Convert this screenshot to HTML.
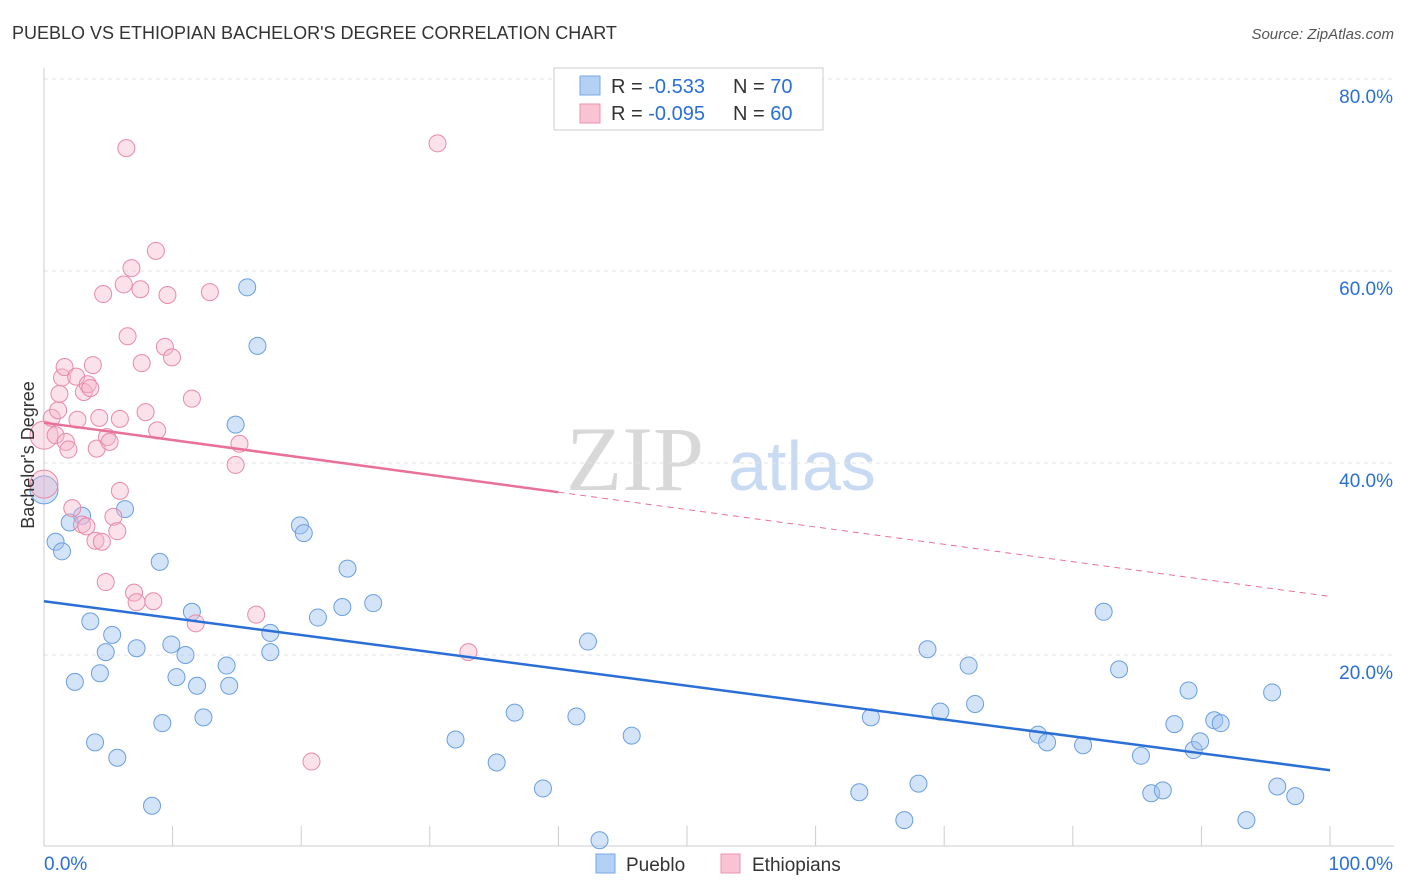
<!DOCTYPE html>
<html><head><meta charset="utf-8"><style>
body{margin:0;background:#fff;font-family:"Liberation Sans",sans-serif;}
svg{display:block}
</style></head><body>
<svg id="chart" width="1406" height="892">
<text x="12" y="39" font-size="18" fill="#333">PUEBLO VS ETHIOPIAN BACHELOR'S DEGREE CORRELATION CHART</text>
<text x="1394" y="39" font-size="15" fill="#555" font-style="italic" text-anchor="end">Source: ZipAtlas.com</text>
<g>
<text x="635" y="490" font-size="92" font-family="Liberation Serif,serif" fill="#d8d8d8" text-anchor="middle">ZIP</text>
<text x="802" y="490" font-size="70" fill="#c9daf3" text-anchor="middle">atlas</text>
</g>
<g id="grid"></g>
<g id="axes"></g>
<g id="marks"></g>
<text transform="translate(34,455) rotate(-90)" font-size="18" fill="#333" text-anchor="middle">Bachelor's Degree</text>
<g>
<rect x="554" y="68" width="269" height="62" fill="#fff" stroke="#ccc"/>
<rect x="580" y="76" width="20" height="19" fill="#b3d0f5" stroke="#7aa8e6"/>
<rect x="580" y="104" width="20" height="19" fill="#f9c3d3" stroke="#eb94b0"/>
<text x="611" y="93" font-size="20" fill="#333">R = <tspan fill="#2a6fd6"> -0.533</tspan><tspan x="733">N = </tspan><tspan fill="#2a6fd6">70</tspan></text>
<text x="611" y="120" font-size="20" fill="#333">R = <tspan fill="#2a6fd6">-0.095</tspan><tspan x="733">N = </tspan><tspan fill="#2a6fd6">60</tspan></text>
</g>
<g>
<rect x="596" y="854" width="19" height="19" fill="#b3d0f5" stroke="#7aa8e6"/>
<text x="626" y="871" font-size="19" fill="#333">Pueblo</text>
<rect x="721" y="854" width="19" height="19" fill="#f9c3d3" stroke="#eb94b0"/>
<text x="752" y="871" font-size="19" fill="#333">Ethiopians</text>
</g>
</svg>
<script>
const yTicks=[20,40,60,80];
const yTickLabels=["20.0%","40.0%","60.0%","80.0%"];
const xTicks=[0,10,20,30,40,50,60,70,80,90,100];
const xLabels=["0.0%","100.0%"];
const puebloX=[0,0.9,1.4,2.0,2.96,2.4,3.6,3.97,4.35,4.8,5.3,5.7,6.3,7.2,8.4,9.0,9.2,9.9,10.3,11.0,11.5,11.9,12.4,14.2,14.4,14.9,15.8,16.6,17.6,17.6,19.9,20.2,21.3,23.2,23.6,25.6,32.0,35.2,36.6,38.8,41.4,42.3,43.2,45.7,63.4,64.3,66.9,68.0,68.7,69.7,71.9,72.4,77.3,78.0,80.8,82.4,83.6,85.3,86.1,87.0,87.9,89.0,89.4,89.9,91.0,91.5,93.5,95.5,95.9,97.3];
const puebloY=[37.2,31.8,30.8,33.8,34.5,17.2,23.5,10.9,18.1,20.3,22.1,9.3,35.2,20.7,4.3,29.7,12.9,21.1,17.7,20.0,24.5,16.8,13.5,18.9,16.8,44.0,58.3,52.2,22.3,20.3,33.5,32.7,23.9,25.0,29.0,25.4,11.2,8.8,14.0,6.1,13.6,21.4,0.7,11.6,5.7,13.5,2.8,6.6,20.6,14.1,18.9,14.9,11.7,10.9,10.6,24.5,18.5,9.5,5.6,5.9,12.8,16.3,10.1,11.0,13.2,12.9,2.8,16.1,6.3,5.3];
const ethX=[0,0,0.6,0.9,1.1,1.2,1.4,1.6,1.7,1.9,2.2,2.5,2.6,2.95,3.1,3.3,3.4,3.6,3.8,4.0,4.1,4.3,4.5,4.6,4.8,4.9,5.1,5.4,5.7,5.9,5.9,6.2,6.4,6.5,6.8,7.0,7.2,7.5,7.6,7.9,8.5,8.7,8.8,9.4,9.6,9.95,11.5,11.8,12.9,14.9,15.2,16.5,20.8,30.6,33.0];
const ethY=[37.8,42.9,44.7,42.9,45.5,47.2,48.9,50.0,42.2,41.4,35.3,49.0,44.5,33.6,47.4,33.4,48.2,47.8,50.2,31.9,41.5,44.7,31.8,57.6,27.6,42.7,42.2,34.4,32.9,44.6,37.1,58.6,72.8,53.2,60.3,26.5,25.5,58.1,50.4,45.3,25.6,62.1,43.4,52.1,57.5,51.0,46.7,23.3,57.8,39.8,42.0,24.2,8.9,73.3,20.3];
const puebloTrend=[25.6,8.0];
const ethTrend=[44.2,26.1];
const ethSolidEnd=40;
const NS="http://www.w3.org/2000/svg";
const xs=v=>44+v*12.86, ys=v=>847-v*9.6;
function mk(tag,attrs,parent){const e=document.createElementNS(NS,tag);for(const k in attrs)e.setAttribute(k,attrs[k]);parent.appendChild(e);return e;}
const grid=document.getElementById('grid'),axes=document.getElementById('axes'),marks=document.getElementById('marks');
yTicks.forEach((t,i)=>{
 const l=mk('line',{x1:44,x2:1394,y1:ys(t),y2:ys(t),stroke:'#e3e3e3','stroke-dasharray':'4,4'},grid);
 
 
 const tx=mk('text',{x:1393,y:ys(t)+24,'font-size':19,fill:'#2a6fd6','text-anchor':'end'},axes);
 tx.textContent=yTickLabels[i];
 
 
});
const ax=mk('line',{x1:44,x2:1394,y1:846,y2:846,stroke:'#ccc'},axes);


const ay=mk('line',{x1:44,x2:44,y1:68,y2:846,stroke:'#ccc'},axes);


xTicks.forEach(t=>{const l=mk('line',{x1:xs(t),x2:xs(t),y1:826,y2:846,stroke:'#ccc'},axes);
 
 });
const xl0=mk('text',{x:44,y:870,'font-size':19,fill:'#2a6fd6'},axes);xl0.textContent=xLabels[0];


const xl1=mk('text',{x:1393,y:870,'font-size':19,fill:'#2a6fd6','text-anchor':'end'},axes);xl1.textContent=xLabels[1];


puebloX.forEach((x,i)=>{const c=mk('circle',{cx:xs(x),cy:ys(puebloY[i]),r:i===0?14:8.5,fill:'rgba(160,196,240,0.45)',stroke:'#6a9fe0','stroke-width':1},marks);
 
 });
ethX.forEach((x,i)=>{const c=mk('circle',{cx:xs(x),cy:ys(ethY[i]),r:i<2?14:8.5,fill:'rgba(245,180,202,0.4)',stroke:'#e88aa8','stroke-width':1},marks);
 
 });
const bl=mk('line',{x1:xs(0),y1:ys(puebloTrend[0]),x2:xs(100),y2:ys(puebloTrend[1]),stroke:'#2a6fd6','stroke-width':2.5},marks);


const ey=ethTrend[0]+(ethTrend[1]-ethTrend[0])*ethSolidEnd/100;
const pl=mk('line',{x1:xs(0),y1:ys(ethTrend[0]),x2:xs(ethSolidEnd),y2:ys(ey),stroke:'#e8709a','stroke-width':2.5},marks);


const pd=mk('line',{x1:xs(ethSolidEnd),y1:ys(ey),x2:xs(100),y2:ys(ethTrend[1]),stroke:'#e8709a','stroke-width':1,'stroke-dasharray':'6,5'},marks);


</script>
</body></html>
